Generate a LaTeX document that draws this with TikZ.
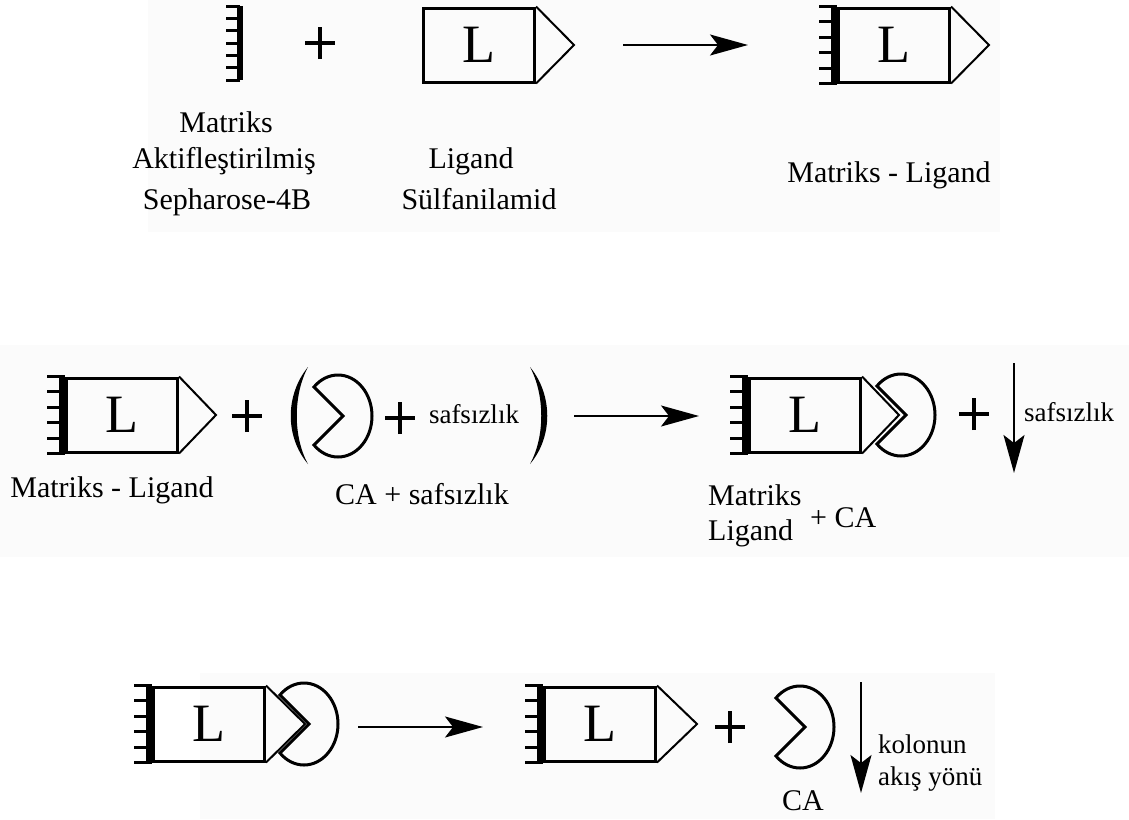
\documentclass[tikz,border=0pt]{standalone}
\usepackage{fontspec}
\setmainfont{Liberation Serif}
\usetikzlibrary{arrows.meta,calc}
\tikzset{
  panel/.style={fill=black!1.5},
  ligbox/.style={draw, line width=3pt, minimum width=111pt, minimum height=74pt, inner sep=0pt, font=\fontsize{54}{60}\selectfont},
  triline/.style={line width=2pt, line join=miter},
  pacline/.style={line width=3pt, line join=miter},
  barline/.style={line width=6pt},
  tickline/.style={line width=3pt},
  plusline/.style={line width=3.5pt},
  arr/.style={line width=1.8pt, -{Stealth[length=38pt, width=21pt, inset=8pt]}},
  lab/.style={font=\fontsize{30}{34}\selectfont, inner sep=0pt, anchor=base},
  small/.style={font=\fontsize{27}{30}\selectfont, inner sep=0pt, anchor=base},
}
\newcommand\ligunit[4]{% name, box left x, centre y, triangle depth
  \node[ligbox, anchor=west] (#1) at (#2,#3) {L};
  \draw[triline] (#1.north east) -- ([xshift=#4pt]#1.east) -- (#1.south east);
}
\newcommand\matbar[1]{%
  \draw[barline] ([xshift=-3pt]#1.north west) -- ([xshift=-3pt]#1.south west);
  \foreach \k in {0,...,5}{\draw[tickline] ($(#1.north west)!\k/5!(#1.south west)$) -- ++(-18,0);}
}
\newcommand\pacman[3]{% name, centre x, centre y
  \coordinate (#1) at (#2,#3);
  \draw[pacline] ([xshift=5pt]#1) -- ($(#1)+(-24.04,-28.99)$)
    arc[start angle=-135, end angle=135, x radius=34, y radius=41] -- cycle;
}
\newcommand\plussign[3]{% name, x, y
  \coordinate (#1) at (#2,#3);
  \draw[plusline] ([xshift=-15pt]#1) -- ([xshift=15pt]#1);
  \draw[plusline] ([yshift=-16pt]#1) -- ([yshift=16pt]#1);
}
\begin{document}
\begin{tikzpicture}[x=1pt, y=-1pt]
\useasboundingbox (0,0) rectangle (1129,819);
% faint panels
\fill[panel] (148,0) rectangle (1000,232);
\fill[panel] (0,345) rectangle (1129,557);
\fill[panel] (200,673) rectangle (995,819);

% ---------- row 1 ----------
\coordinate (mbt) at (240,6);
\coordinate (mbb) at (240,80);
\draw[barline] (mbt) -- (mbb);
\foreach \k in {0,...,6}{\draw[tickline] ($(mbt)!\k/6!(mbb)$) -- ++(-14,0);}
\plussign{p1}{320}{43}
\ligunit{lig}{422}{45}{38}
\coordinate (a1s) at (623,45);
\coordinate (a1e) at (748,45);
\draw[arr] (a1s) -- (a1e);
\ligunit{ml1}{837}{45}{38}
\matbar{ml1}

\node[lab] (t1) at (226,132) {Matriks};
\node[lab] (t2) at (224,168) {Aktifleştirilmiş};
\node[lab] (t3) at (227,209) {Sepharose-4B};
\node[lab] (t4) at (471,168) {Ligand};
\node[lab] (t5) at (479,209) {Sülfanilamid};
\node[lab] (t6) at (889,182) {Matriks - Ligand};

% ---------- row 2 ----------
\ligunit{ml2}{65}{415}{37}
\matbar{ml2}
\plussign{p2}{247}{416}
\fill (308,367) .. controls (285,395) and (285,437) .. (308,464)
      .. controls (293,437) and (293,395) .. (308,367) -- cycle;
\pacman{ca1}{338}{416}
\plussign{p3}{400}{418}
\node[small] (t9) at (474,423) {safsızlık};
\fill (530,367) .. controls (553,395) and (553,437) .. (530,464)
      .. controls (545,437) and (545,395) .. (530,367) -- cycle;
\coordinate (a2s) at (574,416);
\coordinate (a2e) at (699,416);
\draw[arr] (a2s) -- (a2e);
\ligunit{ml3}{748}{415}{37}
\matbar{ml3}
\pacman{ca2}{901}{415}
\plussign{p4}{974}{414}
\coordinate (v1s) at (1014,363);
\coordinate (v1e) at (1014,473);
\draw[arr] (v1s) -- (v1e);
\node[small, anchor=base west] (t10) at (1024,421) {safsızlık};

\node[lab] (t7) at (112,497) {Matriks - Ligand};
\node[lab] (t8) at (422,504) {CA + safsızlık};
\node[lab, anchor=base west] (t11) at (708,505) {Matriks};
\node[lab, anchor=base west] (t12) at (708,540) {Ligand};
\node[lab, anchor=base west] (t13) at (810,527) {+ CA};

% ---------- row 3 ----------
\ligunit{ml4}{152}{724}{39}
\matbar{ml4}
\pacman{ca3}{304}{724}
\coordinate (a3s) at (358,727);
\coordinate (a3e) at (483,727);
\draw[arr] (a3s) -- (a3e);
\ligunit{ml5}{543}{724}{40}
\matbar{ml5}
\plussign{p5}{730}{727}
\pacman{ca4}{800}{727}
\coordinate (v2s) at (861,682);
\coordinate (v2e) at (861,793);
\draw[arr] (v2s) -- (v2e);
\node[lab] (t14) at (803,810) {CA};
\node[small, anchor=base west] (t15) at (878,753) {kolonun};
\node[small, anchor=base west] (t16) at (878,785) {akış yönü};
\end{tikzpicture}
\end{document}
